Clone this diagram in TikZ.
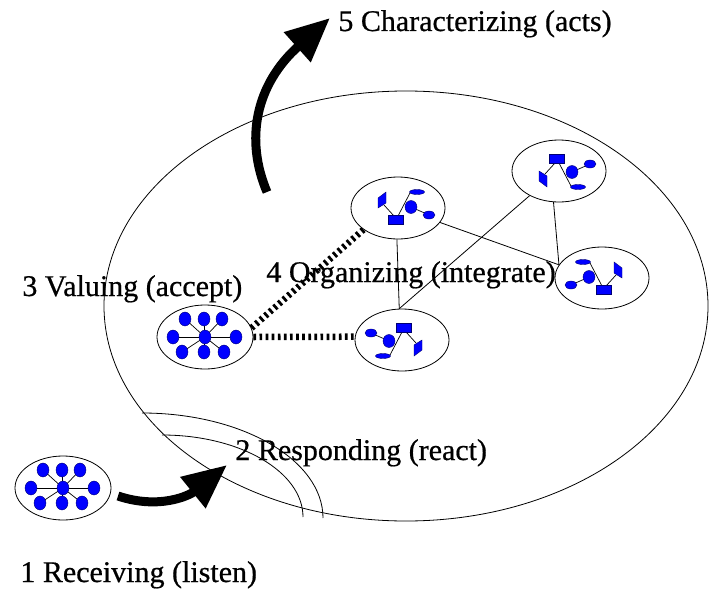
\documentclass[tikz,border=0pt]{standalone}
\usepackage{fontspec}
\setmainfont[FakeBold=0.6]{Liberation Serif}
\usetikzlibrary{shapes.geometric,arrows.meta}

\tikzset{
  spoke/.style={line width=0.7pt},
  atom/.style={fill=blue,draw=blue!45!black,line width=0.4pt},
  pics/star/.style={code={
    \foreach \dx/\dy in {-20/-18,-1/-18,17/-18,-32/0,31/0,-23/15,-1/15,19/15}
      \draw[spoke] (0,0) -- (\dx,\dy);
    \foreach \dx/\dy in {-20/-18,-1/-18,17/-18,-32/0,31/0,-23/15,-1/15,19/15,0/0}
      \filldraw[atom] (\dx,\dy) ellipse (6 and 7);
  }},
  pics/molecule/.style={code={
    \draw[spoke] (-4,8) -- (-14,-3);
    \draw[spoke] (0,8) -- (12,-15);
    \draw[spoke] (13,-1) -- (31,7);
    \filldraw[atom] (-9.5,7.5) rectangle (5.5,16.5);
    \filldraw[atom] (-20,-10) -- (-12,-16) -- (-12,-5) -- (-20,0) -- cycle;
    \filldraw[atom] (19,-16) ellipse (7.5 and 2.5);
    \filldraw[atom] (13,-1) ellipse (6 and 6.5);
    \filldraw[atom] (31,7) ellipse (6 and 4);
  }}
}

\begin{document}
\begin{tikzpicture}
  [x=1pt,y=-1pt,line width=0.8pt,
   cluster/.style={ellipse,draw,minimum width=96,minimum height=64,inner sep=0},
   group/.style={ellipse,draw,minimum width=94,minimum height=62,inner sep=0},
   stage/.style={anchor=base west,inner sep=0,font=\fontsize{30}{34}\selectfont},
   link/.style={line width=0.8pt},
   bond/.style={line width=6.5pt,dash pattern=on 2.7pt off 3.4pt},
   bigarrow/.style={line width=9pt,-{Triangle[length=44pt,width=38pt]}}]
  \useasboundingbox (0,0) rectangle (709,594);

  % the whole person
  \draw (406,306) ellipse (302 and 215);
  \draw (142,413) arc[start angle=-90,end angle=0,x radius=181,y radius=105];
  \draw (162,435) arc[start angle=-90,end angle=0,x radius=141,y radius=82];

  \node[cluster] (s1) at (63,488) {};
  \pic at (63,488) {star};
  \node[cluster] (s2) at (205,337) {};
  \pic at (205,337) {star};

  \node[group] (o1) at (398,208) {};
  \pic at (398,208) {molecule};
  \node[group] (o2) at (559,171) {};
  \pic[yscale=-1] at (559,171) {molecule};
  \node[group] (o3) at (602,278) {};
  \pic[xscale=-1] at (602,278) {molecule};
  \node[group] (o4) at (402,340) {};
  \pic[rotate=180] at (402,340) {molecule};

  \draw[link] (o1.268) -- (o4.95);
  \draw[link] (o1.-19) -- (o3.163);
  \draw[link] (o2.220) -- (o4.95);
  \draw[link] (o2.-100) -- (o3.163);

  \draw[bond] (s2.11) -- (o1.212);
  \draw[bond] (s2.0) -- (o4.176);

  \node[stage] (l1) at (20,582) {1 Receiving (listen)};
  \node[stage] (l2) at (235,460) {2 Responding (react)};
  \node[stage] (l3) at (22,296) {3 Valuing (accept)};
  \node[stage] (l4) at (266,282) {4 Organizing (integrate)};
  \node[stage] (l5) at (338,31) {5 Characterizing (acts)};

  \coordinate (a1) at (118,496);
  \coordinate (a2) at (227,465);
  \coordinate (b1) at (267,192);
  \coordinate (b2) at (330,18);
  \draw[bigarrow] (a1) .. controls (160,510) and (190,495) .. (a2);
  \draw[bigarrow] (b1) .. controls (245,140) and (255,85) .. (b2);
\end{tikzpicture}
\end{document}
